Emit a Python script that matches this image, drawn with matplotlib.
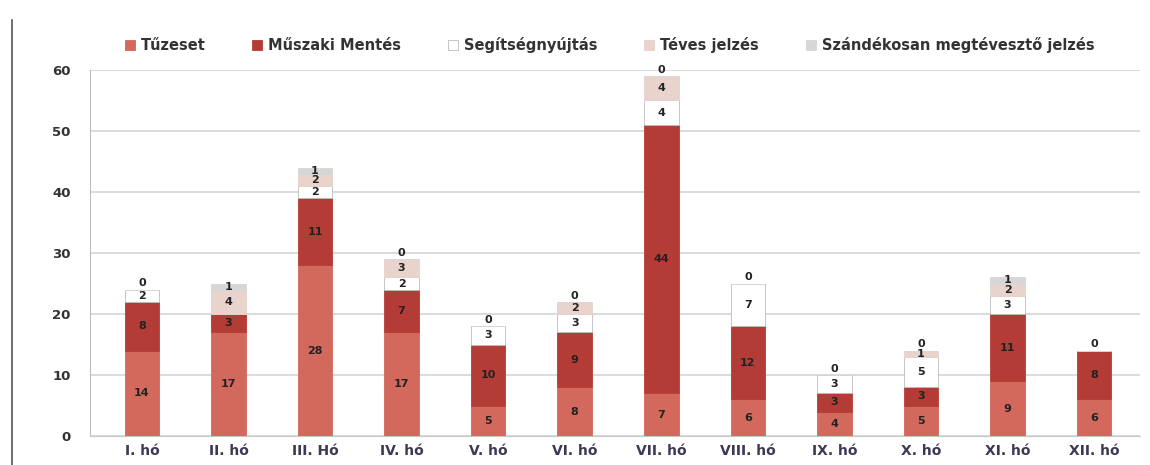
import numpy as np
import matplotlib.pyplot as plt
from matplotlib.lines import Line2D

# months and series values (estimated where blurred)
months = ['I. hó', 'II. hó', 'III. Hó', 'IV. hó', 'V. hó', 'VI. hó',
          'VII. hó', 'VIII. hó', 'IX. hó', 'X. hó', 'XI. hó', 'XII. hó']
tuzeset = [14, 17, 28, 17, 5, 8, 7, 6, 4, 5, 9, 6]
muszaki = [8, 3, 11, 7, 10, 9, 44, 12, 3, 3, 11, 8]
segitseg = [2, 0, 2, 2, 3, 3, 4, 7, 3, 5, 3, 0]
teves = [0, 4, 2, 3, 0, 2, 4, 0, 0, 1, 2, 0]
szandekos = [0, 1, 1, 0, 0, 0, 0, 0, 0, 0, 1, 0]

series = [
    ('Tűzeset', tuzeset, '#d2695c'),
    ('Műszaki Mentés', muszaki, '#b33d36'),
    ('Segítségnyújtás', segitseg, '#ffffff'),
    ('Téves jelzés', teves, '#e8d3cd'),
    ('Szándékosan megtévesztő jelzés', szandekos, '#d6d6d6'),
]

plt.rcParams['font.family'] = ['DejaVu Sans']

fig = plt.figure(figsize=(11.5, 4.65), dpi=100)
ax = fig.add_axes([90 / 1150, 29 / 465, 1050 / 1150, 366 / 465])

x = np.arange(len(months))
bottom = np.zeros(len(months))
handles = []
for i, (name, vals, col) in enumerate(series):
    vals = np.array(vals, dtype=float)
    ec = '#bbbbbb' if col == '#ffffff' else col
    bars = ax.bar(x, vals, 0.4, bottom=bottom, color=col, edgecolor=ec,
                  linewidth=0.6, zorder=3, label=name)
    handles.append(bars)
    for xi, v, b in zip(x, vals, bottom):
        if v > 0:
            ax.text(xi, b + v / 2, f'{int(v)}', ha='center', va='center',
                    fontsize=8, fontweight='bold', color='#222222', zorder=4)
        elif i == len(series) - 1:
            ax.text(xi, b + 0.2, '0', ha='center', va='bottom',
                    fontsize=8, fontweight='bold', color='#222222', zorder=4)
    bottom += vals

ax.set_xlim(-0.6, 11.53)
ax.set_ylim(0, 60)
ax.set_yticks(range(0, 61, 10))
ax.set_xticks(x)
ax.set_xticklabels(months, fontsize=10, fontweight='bold', color='#3a3a55')
ax.tick_params(axis='y', labelsize=9.5, length=0, pad=14, labelcolor='#333333')
ax.tick_params(axis='x', length=0, pad=6)
for lab in ax.get_yticklabels():
    lab.set_fontweight('bold')
ax.grid(axis='y', color='#d4d4d4', linewidth=1.2, zorder=0)
for s in ['top', 'right']:
    ax.spines[s].set_visible(False)
ax.spines['left'].set_color('#bdbdbd')
ax.spines['bottom'].set_color('#c8c8c8')

leg = fig.legend(handles=handles, loc='center', bbox_to_anchor=(0.53, 0.903),
                 ncol=5, frameon=False, fontsize=10.5, handlelength=0.7,
                 handleheight=0.7, handletextpad=0.4, columnspacing=3.2)
for t in leg.get_texts():
    t.set_color('#333333')
    t.set_fontweight('bold')

# scan frame line on the left edge
fig.add_artist(Line2D([12 / 1150, 12 / 1150], [0, 445 / 465],
                      transform=fig.transFigure, color='#555555', linewidth=1.2))

fig.savefig('out.png', dpi=100)
